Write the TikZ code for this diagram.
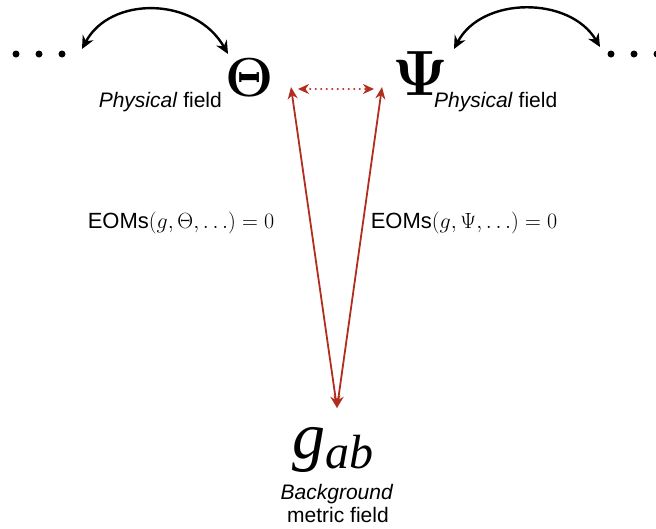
\RequirePackage{fix-cm}
\documentclass[tikz,border=0pt]{standalone}
\usepackage{fontspec}
\usepackage{amsmath}
\usetikzlibrary{arrows.meta}
\newfontfamily\sansf{Liberation Sans}
\newfontfamily\seriff{Liberation Serif}
\definecolor{arrowred}{RGB}{178,45,30}
\begin{document}
\begin{tikzpicture}[x=1pt,y=-1pt,
  dotstyle/.style={circle,fill=black,inner sep=0pt,minimum size=7pt},
  bendarrow/.style={line width=2.4pt,{Stealth[length=13pt,width=12pt]}-{Stealth[length=13pt,width=12pt]}},
  redarrow/.style={arrowred,line width=1.8pt,{Stealth[length=12pt,width=10pt]}-{Stealth[length=12pt,width=10pt]}},
  reddots/.style={arrowred,line width=2.4pt,line cap=round,dash pattern=on 0pt off 5.5pt,{Stealth[length=11pt,width=10pt]}-{Stealth[length=11pt,width=10pt]}},
  lbl/.style={inner sep=0pt,font=\sansf\fontsize{21}{24}\selectfont},
  eom/.style={inner sep=0pt,font=\fontsize{22}{26}\selectfont}]
\useasboundingbox (0,0) rectangle (656,528);
% dots
\node[dotstyle] (d1) at (16,54) {};
\node[dotstyle] (d2) at (39,54) {};
\node[dotstyle] (d3) at (62,54) {};
\node[dotstyle] (d4) at (611,54) {};
\node[dotstyle] (d5) at (634,54) {};
\node[dotstyle] (d6) at (657,54) {};
% fields
\node[inner sep=0pt,font=\fontsize{55}{55}\selectfont] (theta) at (250,78) {$\boldsymbol{\Theta}$};
\node[inner sep=0pt,font=\fontsize{64}{64}\selectfont] (psi) at (420,74) {$\boldsymbol{\Psi}$};
\node[lbl,anchor=base east] (lphys) at (222,107) {\textit{Physical} field};
\node[lbl,anchor=base west] (rphys) at (434,107) {\textit{Physical} field};
% metric
\node[inner sep=0pt,anchor=base,font=\seriff\itshape\fontsize{66}{66}\selectfont] (g) at (333,458) {g\raisebox{-0.16em}{\fontsize{48}{48}\selectfont ab}};
\node[lbl,anchor=base,align=center] (bg) at (337,499) {\textit{Background}};
\node[lbl,anchor=base] (mf) at (338,522) {metric field};
% EOMs
\node[eom] (eoml) at (181,223) {{\sansf EOMs}$(g,\Theta,\ldots)=0$};
\node[eom] (eomr) at (464,223) {{\sansf EOMs}$(g,\Psi,\ldots)=0$};
% connector endpoints
\coordinate (la) at (82,49);
\coordinate (lb) at (228,54);
\coordinate (ra) at (454,49);
\coordinate (rb) at (600,47);
\coordinate (tt) at (291,87);
\coordinate (pt) at (382,87);
\coordinate (gt) at (337,408);
\coordinate (da) at (298,89);
\coordinate (db) at (374,89);
% curved arrows
\draw[bendarrow] (la) .. controls (110,-4) and (195,-4) .. (lb);
\draw[bendarrow] (ra) .. controls (482,-4) and (570,-4) .. (rb);
% red arrows
\draw[redarrow] (tt) -- (gt);
\draw[redarrow] (pt) -- (gt);
\draw[reddots] (da) -- (db);
\end{tikzpicture}
\end{document}
